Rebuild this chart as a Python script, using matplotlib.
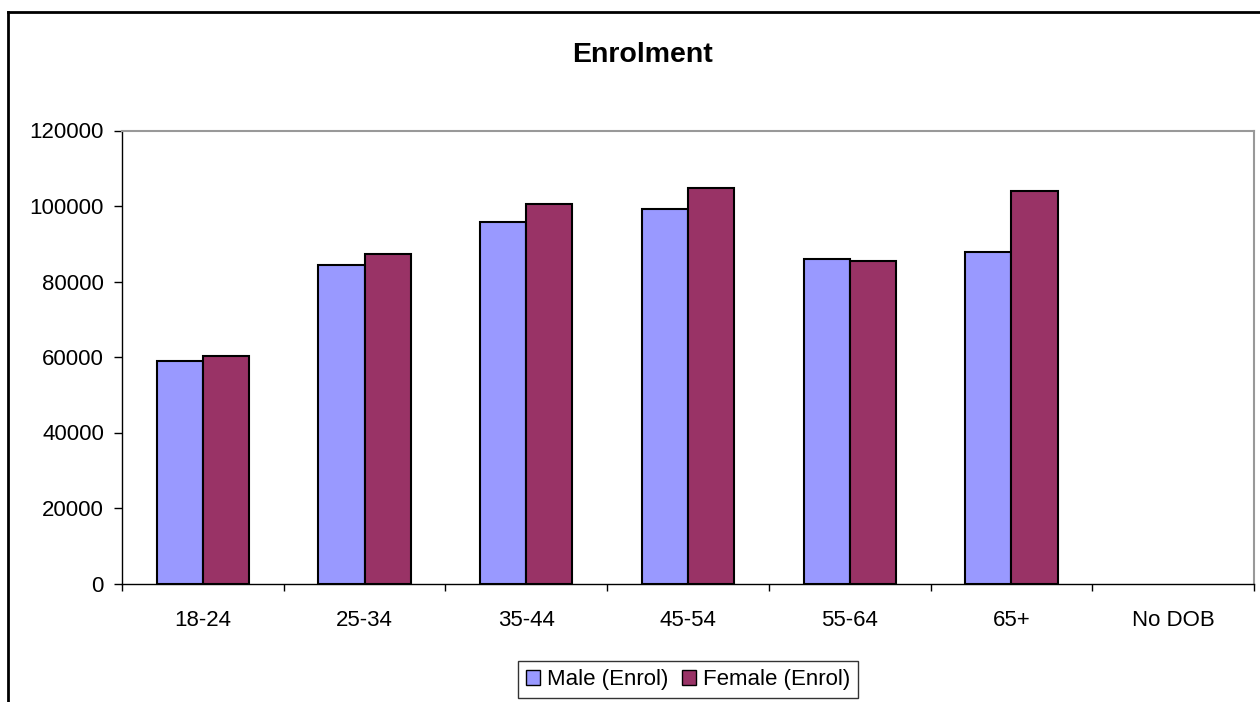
import matplotlib
matplotlib.use("Agg")
import matplotlib.pyplot as plt
import numpy as np
from matplotlib.patches import Patch
from matplotlib.lines import Line2D

categories = ["18-24", "25-34", "35-44", "45-54", "55-64", "65+", "No DOB"]
male = [58900, 84400, 95800, 99200, 86000, 87900, 0]
female = [60300, 87400, 100600, 104900, 85500, 103900, 0]
series_names = ["Male (Enrol)", "Female (Enrol)"]
yticks = [0, 20000, 40000, 60000, 80000, 100000, 120000]

plt.rcParams['font.family'] = ['Liberation Sans', 'DejaVu Sans']
FS = 16

fig = plt.figure(figsize=(12.6, 7.02), dpi=100)
ax = fig.add_axes([122/1260, 1-583.5/702, (1254-122)/1260, (583.5-130.5)/702])

x = np.arange(len(categories))
w = 0.285
ax.bar(x - w/2, male, width=w, color="#9999FF", edgecolor="black",
       linewidth=[1.5 if v else 0 for v in male], label=series_names[0])
ax.bar(x + w/2, female, width=w, color="#993366", edgecolor="black",
       linewidth=[1.5 if v else 0 for v in female], label=series_names[1])

ax.set_xlim(-0.5, len(categories) - 0.5)
ax.set_ylim(0, 120000)
ax.set_yticks(yticks)
ax.set_yticklabels([str(t) for t in yticks], fontsize=FS)
ax.set_xticks(x)
ax.set_xticklabels(categories, fontsize=FS)
ax.set_xticks(np.arange(-0.5, len(categories)), minor=True)
ax.tick_params(axis='x', which='major', length=0, pad=19)
ax.tick_params(axis='x', which='minor', length=5, width=1, direction='out')
ax.tick_params(axis='y', length=6, width=1, direction='out', pad=7)

for s in ['top', 'right']:
    ax.spines[s].set_color('#999999')
    ax.spines[s].set_linewidth(1.5)
for s in ['left', 'bottom']:
    ax.spines[s].set_color('black')
    ax.spines[s].set_linewidth(1)

fig.text(642/1260, 1-55/702, "Enrolment", ha='center', va='center', fontsize=20.5, fontweight='bold')

# outer chart border (cropped on right and bottom)
fig.add_artist(Line2D([8/1260, 8/1260], [0, 1-12/702], transform=fig.transFigure, color='black', linewidth=2))
fig.add_artist(Line2D([8/1260, 1], [1-12/702, 1-12/702], transform=fig.transFigure, color='black', linewidth=2))

handles = [Patch(facecolor="#9999FF", edgecolor="black", linewidth=1),
           Patch(facecolor="#993366", edgecolor="black", linewidth=1)]
leg = fig.legend(handles, series_names, loc='center', bbox_to_anchor=(688/1260, 1-679.5/702),
                 ncol=2, fontsize=FS, frameon=True, fancybox=False, edgecolor='black',
                 handlelength=0.65, handleheight=0.65, handletextpad=0.3, columnspacing=0.6,
                 borderpad=0.35, borderaxespad=0)
leg.get_frame().set_linewidth(1)

fig.savefig("out.png", dpi=100)
